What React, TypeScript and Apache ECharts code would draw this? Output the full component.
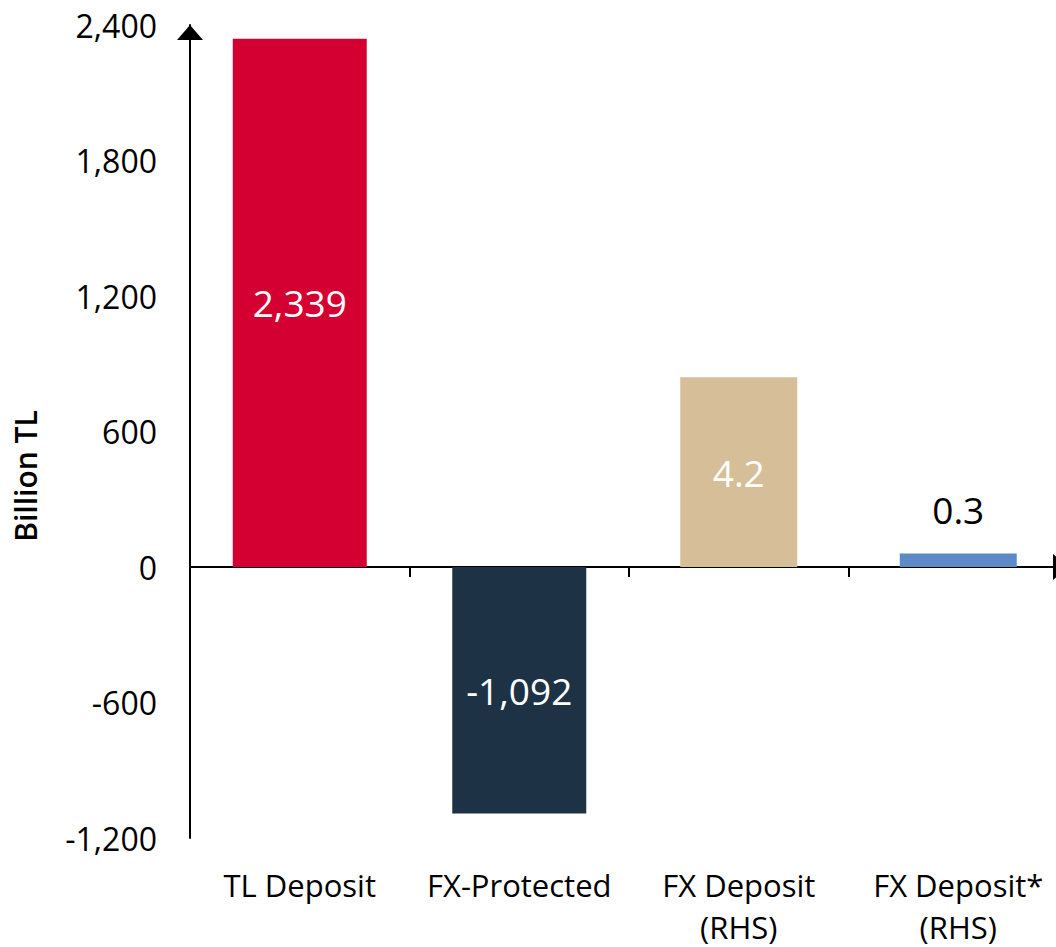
import React, { useEffect, useRef } from "react";
import * as echarts from "echarts";

const categories = ["TL Deposit", "FX-Protected", "FX Deposit\n(RHS)", "FX Deposit*\n(RHS)"];
const lhsValues: (number | string)[] = [2339, -1092, "-", "-"];
const rhsValues: (number | string)[] = ["-", "-", 4.2, 0.3];
const barColors = ["#D50032", "#1E3246", "#D5BE98", "#5B8AC6"];
const lhsTicks = [-1200, -600, 0, 600, 1200, 1800, 2400];
const rhsMin = -6;
const rhsMax = 12;
const yAxisTitle = "Billion TL";

const FONT = "'Open Sans', 'Noto Sans', sans-serif";

export default function App() {
  const ref = useRef<HTMLDivElement>(null);

  useEffect(() => {
    document.body.style.margin = "0";
    if (!ref.current) return;
    const chart = echarts.init(ref.current, undefined, { renderer: "svg" });
    const fmt = (v: number) => v.toLocaleString("en-US");
    const option: any = {
      animation: false,
      backgroundColor: "#ffffff",
      textStyle: { fontFamily: FONT },
      grid: {
        left: 190,
        width: 878,
        top: 25,
        bottom: 109,
        containLabel: false,
        outerBoundsMode: "none",
      },
      xAxis: [
        {
          type: "category",
          data: categories,
          position: "bottom",
          axisLine: {
            show: true,
            onZero: true,
            symbol: ["none", "triangle"],
            symbolSize: [26, 15],
            symbolOffset: [0, -7.5],
            lineStyle: { color: "#000", width: 2 },
          },
          axisTick: { show: true, interval: 0, length: 10, lineStyle: { color: "#000", width: 2 } },
          axisLabel: { show: false },
          splitLine: { show: false },
        },
        {
          type: "category",
          data: categories,
          position: "bottom",
          axisLine: { show: false, onZero: false },
          axisTick: { show: false },
          axisLabel: {
            show: true,
            interval: 0,
            color: "#000",
            fontSize: 31,
            lineHeight: 42,
            margin: 26,
            fontFamily: FONT,
          },
          splitLine: { show: false },
        },
      ],
      yAxis: [
        {
          type: "value",
          min: lhsTicks[0],
          max: lhsTicks[lhsTicks.length - 1],
          interval: lhsTicks[1] - lhsTicks[0],
          axisLine: {
            show: true,
            symbol: ["none", "triangle"],
            symbolSize: [26, 15],
            symbolOffset: [0, -7.5],
            lineStyle: { color: "#000", width: 2 },
          },
          axisTick: { show: false },
          splitLine: { show: false },
          axisLabel: {
            color: "#000",
            fontSize: 32,
            margin: 33,
            fontFamily: FONT,
            formatter: (v: number) => fmt(v),
          },
        },
        {
          type: "value",
          min: rhsMin,
          max: rhsMax,
          show: false,
          splitLine: { show: false },
        },
      ],
      graphic: [
        {
          type: "text",
          x: 25,
          y: 476,
          rotation: Math.PI / 2,
          style: {
            text: yAxisTitle,
            fill: "#000",
            font: `600 30px ${FONT}`,
            align: "center",
            verticalAlign: "middle",
          },
        },
      ],
      series: [
        {
          type: "bar",
          xAxisIndex: 0,
          yAxisIndex: 0,
          barWidth: 134,
          data: lhsValues.map((v, i) => ({ value: v, itemStyle: { color: barColors[i] } })),
          label: {
            show: true,
            position: "inside",
            color: "#fff",
            fontSize: 37,
            fontFamily: FONT,
            formatter: (p: any) => fmt(p.value),
          },
        },
        {
          type: "bar",
          xAxisIndex: 1,
          yAxisIndex: 1,
          barWidth: 117,
          data: rhsValues.map((v, i) => {
            const item: any = { value: v, itemStyle: { color: barColors[i] } };
            if (i === 3) item.label = { position: "top", color: "#000", distance: 25 };
            return item;
          }),
          label: {
            show: true,
            position: "inside",
            color: "#fff",
            fontSize: 37,
            fontFamily: FONT,
            formatter: (p: any) => Number(p.value).toFixed(1),
          },
        },
      ],
    };
    chart.setOption(option);
    return () => chart.dispose();
  }, []);

  return (
    <div
      ref={ref}
      style={{ position: "absolute", left: 0, top: 0, width: 1056, height: 947 }}
    />
  );
}
